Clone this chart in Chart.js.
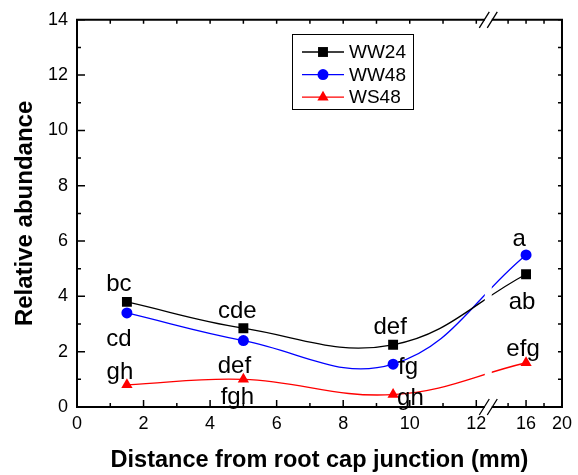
<!DOCTYPE html>
<html><head><meta charset="utf-8">
<script src="https://cdn.jsdelivr.net/npm/chart.js@4/dist/chart.umd.min.js"></script>
<style>html,body{margin:0;padding:0;background:#fff;}#wrap{width:578px;height:475px;position:relative;}</style>
</head><body><div id="wrap"><canvas id="c" width="578" height="475"></canvas></div>
<script>
// ---- data ----
const distances = [1.5, 5, 9.5, 16];
const ww24 = [3.8, 2.85, 2.25, 4.8];
const ww48 = [3.4, 2.4, 1.55, 5.5];
const ws48 = [0.8, 1.0, 0.45, 1.6];
const lettersWW24 = ['bc', 'cde', 'def', 'ab'];
const lettersWW48 = ['cd', 'def', 'fg', 'a'];
const lettersWS48 = ['gh', 'fgh', 'gh', 'efg'];
const seriesNames = ['WW24', 'WW48', 'WS48'];
const xTickValues = [0, 2, 4, 6, 8, 10, 12, 16, 20];
const xMinorValues = [1, 3, 5, 7, 9, 11, 14, 18];
const yTickValues = [0, 2, 4, 6, 8, 10, 12, 14];
const yMinorValues = [1, 3, 5, 7, 9, 11, 13];
const xTitle = 'Distance from root cap junction (mm)';
const yTitle = 'Relative abundance';

// ---- axis break transform (x > break drawn compressed) ----
const BREAK_AT = 12.24, GAP = 0.24, SEG2_RATIO = 0.27, X_MAX = 20;
function toU(x) { return x <= BREAK_AT ? x : BREAK_AT + GAP + SEG2_RATIO * (x - BREAK_AT); }

const FONT = "'Liberation Sans', Arial, sans-serif";
const colors = ['#000000', '#0000ff', '#ff0000'];
const styles = ['rect', 'circle', 'triangle'];
const radii = [7, 5.5, 6.5];
const seriesValues = [ww24, ww48, ws48];
const seriesLetters = [lettersWW24, lettersWW48, lettersWS48];

// label placement (pixel offsets from each point): [dx, dy, align]
const labelOffsets = [
  [[-8, -11, 'center'], [-6, -10, 'center'], [-3, -11, 'center'], [-4, 35, 'center']],
  [[-8, 33, 'center'], [-9, 32, 'center'], [5, 10, 'left'], [-7, -9, 'center']],
  [[-7, -6, 'center'], [-6, 25, 'center'], [4, 10, 'left'], [-3, -7, 'center']]
];

const datasets = seriesValues.map((vals, s) => ({
  label: seriesNames[s],
  data: distances.map((d, i) => ({ x: toU(d), y: vals[i] })),
  showLine: true,
  borderColor: colors[s],
  backgroundColor: colors[s],
  borderWidth: 1.3,
  tension: 0.4,
  pointStyle: styles[s],
  pointRadius: radii[s],
  pointBorderWidth: 0,
  pointBackgroundColor: colors[s],
  pointBorderColor: colors[s]
}));

const decor = {
  id: 'decor',
  afterDatasetsDraw(chart) {
    const ctx = chart.ctx;
    const xs = chart.scales.x, ys = chart.scales.y;
    const L = chart.chartArea.left, R = chart.chartArea.right, T = chart.chartArea.top, B = chart.chartArea.bottom;
    const bL = xs.getPixelForValue(BREAK_AT), bR = xs.getPixelForValue(BREAK_AT + GAP);
    ctx.save();
    // frame
    ctx.strokeStyle = '#000';
    ctx.lineWidth = 2;
    ctx.beginPath();
    ctx.moveTo(L, T); ctx.lineTo(R, T); ctx.lineTo(R, B); ctx.lineTo(L, B); ctx.closePath();
    ctx.stroke();
    // ticks
    ctx.lineWidth = 1.5;
    ctx.beginPath();
    xTickValues.forEach(v => { const p = xs.getPixelForValue(toU(v)); ctx.moveTo(p, B); ctx.lineTo(p, B - 7); ctx.moveTo(p, T); ctx.lineTo(p, T + 4); });
    xMinorValues.forEach(v => { const p = xs.getPixelForValue(toU(v)); ctx.moveTo(p, B); ctx.lineTo(p, B - 4); ctx.moveTo(p, T); ctx.lineTo(p, T + 4); });
    yTickValues.forEach(v => { const p = ys.getPixelForValue(v); ctx.moveTo(L, p); ctx.lineTo(L + 8, p); ctx.moveTo(R, p); ctx.lineTo(R - 4, p); });
    yMinorValues.forEach(v => { const p = ys.getPixelForValue(v); ctx.moveTo(L, p); ctx.lineTo(L + 4, p); ctx.moveTo(R, p); ctx.lineTo(R - 4, p); });
    ctx.stroke();
    // axis break: blank band and slashes
    ctx.fillStyle = '#fff';
    ctx.fillRect(bL + 0.5, T - 3, bR - bL - 1, B - T + 6);
    ctx.lineWidth = 1.3;
    ctx.beginPath();
    [T, B].forEach(yy => { [bL, bR].forEach(xx => { ctx.moveTo(xx - 5, yy + 8); ctx.lineTo(xx + 5, yy - 8); }); });
    ctx.stroke();
    // point letters
    ctx.fillStyle = '#000';
    ctx.font = '24px ' + FONT;
    ctx.textBaseline = 'alphabetic';
    seriesValues.forEach((vals, s) => {
      vals.forEach((v, i) => {
        const px = xs.getPixelForValue(toU(distances[i])), py = ys.getPixelForValue(v);
        const o = labelOffsets[s][i];
        ctx.textAlign = o[2];
        ctx.fillText(seriesLetters[s][i], px + o[0], py + o[1]);
      });
    });
    // legend
    const lx = 292, ly = 34, lw = 121, lh = 75;
    ctx.fillStyle = '#fff';
    ctx.fillRect(lx, ly, lw, lh);
    ctx.strokeStyle = '#000';
    ctx.lineWidth = 1;
    ctx.strokeRect(lx + 0.5, ly + 0.5, lw, lh);
    ctx.font = '19px ' + FONT;
    ctx.textAlign = 'left';
    ctx.textBaseline = 'middle';
    seriesNames.forEach((n, s) => {
      const yy = ly + 18 + s * 22.6;
      ctx.strokeStyle = colors[s];
      ctx.lineWidth = 1.3;
      ctx.beginPath(); ctx.moveTo(lx + 10, yy); ctx.lineTo(lx + 52, yy); ctx.stroke();
      ctx.fillStyle = colors[s];
      if (Chart.helpers && Chart.helpers.drawPoint) {
        Chart.helpers.drawPoint(ctx, { pointStyle: styles[s], radius: radii[s], borderWidth: 0, rotation: 0 }, lx + 31, yy);
      }
      ctx.fillStyle = '#000';
      ctx.fillText(n, lx + 57, yy + 1);
    });
    ctx.restore();
  }
};

new Chart(document.getElementById('c'), {
  type: 'scatter',
  data: { datasets },
  options: {
    responsive: false,
    animation: false,
    devicePixelRatio: 1,
    layout: { padding: { top: 16, right: 15, left: 0, bottom: 0 } },
    plugins: { legend: { display: false }, tooltip: { enabled: false } },
    scales: {
      x: {
        type: 'linear', min: 0, max: toU(X_MAX),
        afterBuildTicks: (s) => { s.ticks = xTickValues.map(v => ({ value: toU(v) })); },
        afterFit: (s) => { s.height = 68; },
        ticks: { autoSkip: false, maxRotation: 0, padding: 6, color: '#000', font: { family: FONT, size: 18 },
                 callback: (v, i) => String(xTickValues[i]) },
        grid: { display: false, drawTicks: false },
        border: { display: false },
        title: { display: true, text: xTitle, color: '#000', font: { family: FONT, size: 23.5, weight: 'bold' }, padding: { top: 0, bottom: 0 } }
      },
      y: {
        type: 'linear', min: 0, max: 14,
        afterBuildTicks: (s) => { s.ticks = yTickValues.map(v => ({ value: v })); },
        afterFit: (s) => { s.width = 77; },
        ticks: { autoSkip: false, padding: 9, color: '#000', font: { family: FONT, size: 18 } },
        grid: { display: false, drawTicks: false },
        border: { display: false },
        title: { display: true, text: yTitle, color: '#000', font: { family: FONT, size: 24, weight: 'bold' }, padding: { top: 11, bottom: 0 } }
      }
    }
  },
  plugins: [decor]
});
</script></body></html>
